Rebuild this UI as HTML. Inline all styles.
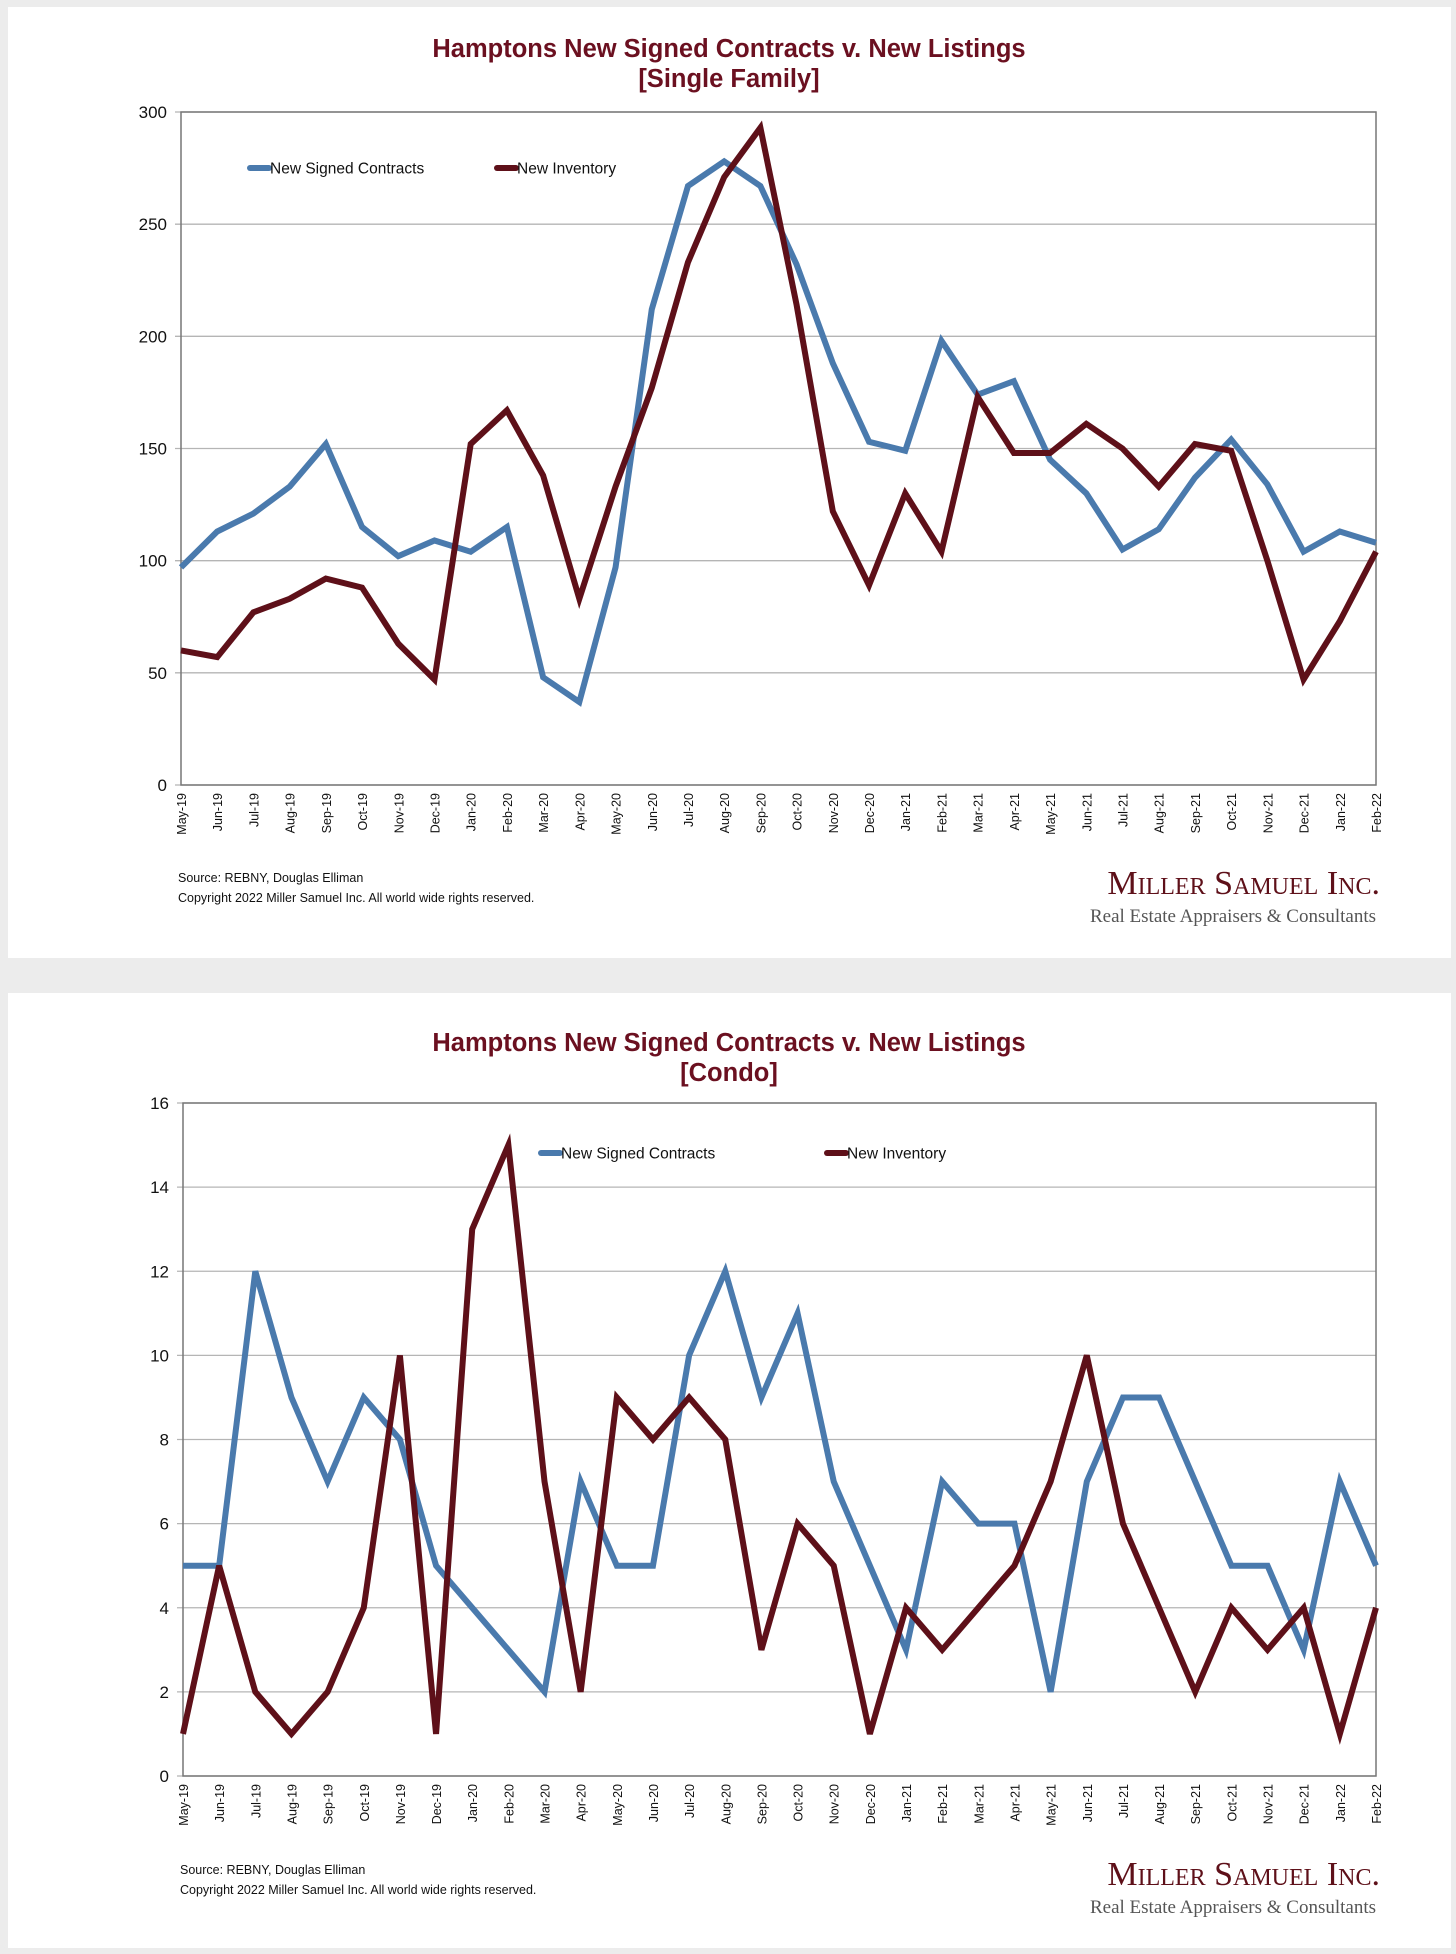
<!DOCTYPE html>
<html><head><meta charset="utf-8"><style>
body{margin:0;width:1456px;height:1954px;background:#ececec;font-family:"Liberation Sans",sans-serif;overflow:hidden}
svg{display:block}
</style></head><body>
<svg id="s" width="1456" height="1954" xmlns="http://www.w3.org/2000/svg">
<rect x="8" y="7" width="1443" height="951" fill="#fff"/>
<rect x="8" y="993" width="1443" height="955" fill="#fff"/>
</svg>
<script>
const months=["May-19","Jun-19","Jul-19","Aug-19","Sep-19","Oct-19","Nov-19","Dec-19","Jan-20","Feb-20","Mar-20","Apr-20","May-20","Jun-20","Jul-20","Aug-20","Sep-20","Oct-20","Nov-20","Dec-20","Jan-21","Feb-21","Mar-21","Apr-21","May-21","Jun-21","Jul-21","Aug-21","Sep-21","Oct-21","Nov-21","Dec-21","Jan-22","Feb-22"];
const sfContracts=[97,113,121,133,152,115,102,109,104,115,48,37,97,212,267,278,267,232,188,153,149,198,174,180,145,130,105,114,137,154,134,104,113,108];
const sfInventory=[60,57,77,83,92,88,63,47,152,167,138,83,133,177,233,271,293,214,122,89,130,104,173,148,148,161,150,133,152,149,100,47,73,104];
const sfTicks=[0,50,100,150,200,250,300];
const coContracts=[5,5,12,9,7,9,8,5,4,3,2,7,5,5,10,12,9,11,7,5,3,7,6,6,2,7,9,9,7,5,5,3,7,5];
const coInventory=[1,5,2,1,2,4,10,1,13,15,7,2,9,8,9,8,3,6,5,1,4,3,4,5,7,10,6,4,2,4,3,4,1,4];
const coTicks=[0,2,4,6,8,10,12,14,16];
const NS="http://www.w3.org/2000/svg",svg=document.getElementById('s');
function el(t,a,txt){const e=document.createElementNS(NS,t);for(const k in a)e.setAttribute(k,a[k]);if(txt!==undefined)e.textContent=txt;svg.appendChild(e);return e;}
function chart(c){
 const x=i=>c.x0+(c.x1-c.x0)*i/(months.length-1);
 const y=v=>c.y1-(c.y1-c.y0)*v/c.max;
 let t=el('text',{x:729,y:c.ty,'text-anchor':'middle','font-size':25.5,'font-weight':'bold',fill:'#6b1020'},c.title1);
 
 t=el('text',{x:729,y:c.ty+30,'text-anchor':'middle','font-size':25.5,'font-weight':'bold',fill:'#6b1020'},c.title2);
 
 c.ticks.forEach(v=>{
  const g=el('line',{x1:c.x0-6,x2:c.x1,y1:y(v),y2:y(v),stroke:'#b5b5b5','stroke-width':1.3});
  
  const l=el('text',{x:c.x0-14,y:y(v)+6,'text-anchor':'end','font-size':17,fill:'#111'},v);
  
 });
 const b=el('rect',{x:c.x0,y:c.y0,width:c.x1-c.x0,height:c.y1-c.y0,fill:'none',stroke:'#777','stroke-width':1.5});
 
 months.forEach((m,i)=>{
  const l=el('text',{transform:`translate(${x(i)+5},${c.y1+8}) rotate(-90)`,'text-anchor':'end','font-size':12.5,fill:'#111'},m);
  
 });
 [[c.a,'#4a7aad','contracts-line'],[c.b,'#5e1019','inventory-line']].forEach(([d,col,n])=>{
  const p=el('polyline',{points:d.map((v,i)=>x(i)+','+y(v)).join(' '),fill:'none',stroke:col,'stroke-width':6,'stroke-linejoin':'miter'});
  
 });
 [[c.lx1,'#4a7aad','New Signed Contracts'],[c.lx2,'#5e1019','New Inventory']].forEach(([lx,col,txt])=>{
  const s=el('line',{x1:lx,x2:lx+19,y1:c.ly,y2:c.ly,stroke:col,'stroke-width':6,'stroke-linecap':'round'});
  
  const l=el('text',{x:lx+20,y:c.ly+5.5,'font-size':15.5,fill:'#111'},txt);
  
 });
 t=el('text',{x:c.x0-3,y:c.sy,'font-size':12.5,fill:'#111'},'Source: REBNY, Douglas Elliman');
 
 t=el('text',{x:c.x0-3,y:c.sy+20,'font-size':12.5,fill:'#111','xml:space':'preserve'},'Copyright 2022 Miller Samuel Inc.  All world wide rights reserved.');
 
 t=el('text',{x:1380,y:c.gy,'text-anchor':'end','font-family':'Liberation Serif,serif','font-size':34,fill:'#5e1019','font-variant':'small-caps'},'Miller Samuel Inc.');
 
 t=el('text',{x:1376,y:c.gy+28,'text-anchor':'end','font-family':'Liberation Serif,serif','font-size':19,fill:'#555'},'Real Estate Appraisers & Consultants');
 
}
chart({x0:181,x1:1376,y0:112,y1:785,max:300,ticks:sfTicks,a:sfContracts,b:sfInventory,ty:57,title1:'Hamptons New Signed Contracts v. New Listings',title2:'[Single Family]',lx1:250,lx2:497,ly:168,sy:882,gy:894});
chart({x0:183,x1:1376,y0:1103,y1:1776,max:16,ticks:coTicks,a:coContracts,b:coInventory,ty:1051,title1:'Hamptons New Signed Contracts v. New Listings',title2:'[Condo]',lx1:541,lx2:827,ly:1153,sy:1874,gy:1885});
</script>
</body></html>
